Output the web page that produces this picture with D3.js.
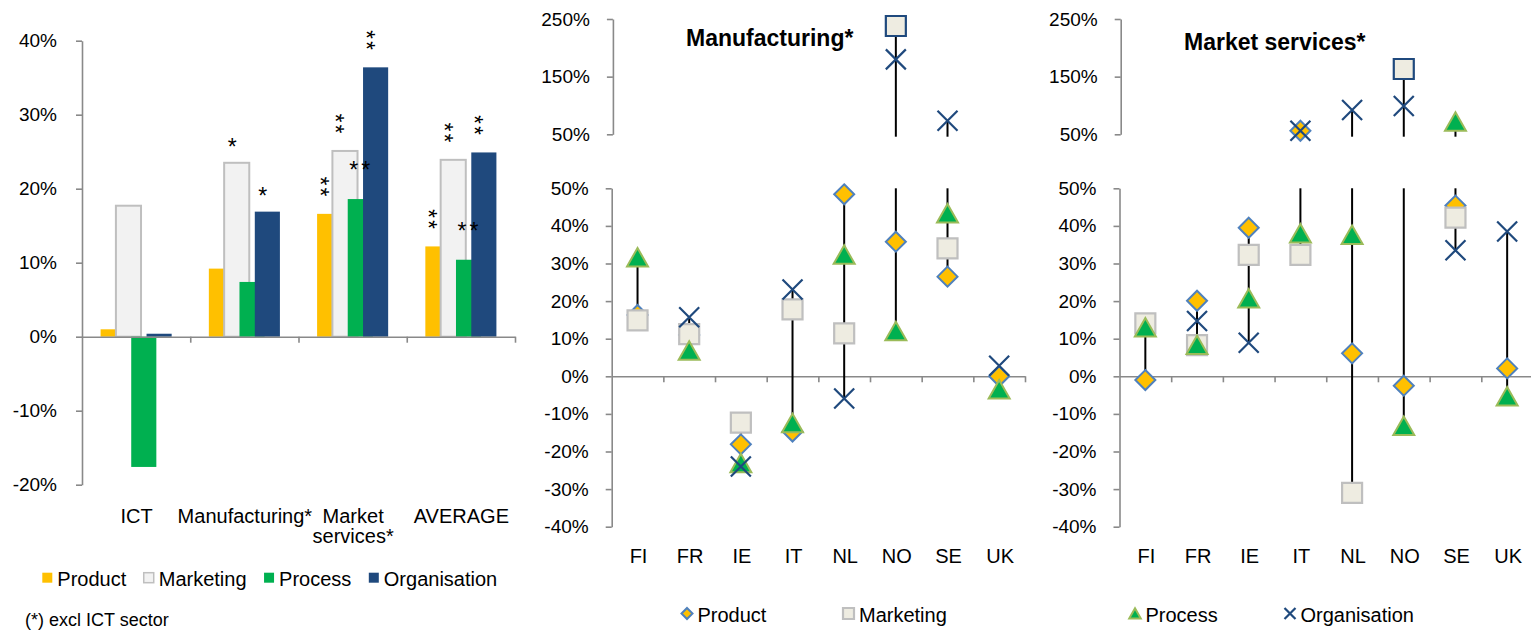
<!DOCTYPE html>
<html>
<head>
<meta charset="utf-8">
<script src="https://cdn.jsdelivr.net/npm/d3@7"></script>
<style>
  body { margin: 0; background: #ffffff; }
  svg { display: block; font-family: "Liberation Sans", Arial, sans-serif; }
</style>
</head>
<body>
<svg id="chart" width="1531" height="630"></svg>
<script>
// ---------- Bar chart: effect of each innovation type by sector ----------
const sectors = ["ICT", "Manufacturing*", "Market services*", "AVERAGE"];
const sectorLines = [["ICT"], ["Manufacturing*"], ["Market", "services*"], ["AVERAGE"]];
const innovationTypes = ["Product", "Marketing", "Process", "Organisation"];
const barProduct = [1.0, 9.2, 16.6, 12.2];
const barMarketing = [17.7, 23.5, 25.1, 23.9];
const barProcess = [-17.6, 7.4, 18.6, 10.4];
const barOrganisation = [0.4, 16.9, 36.4, 24.9];
// significance stars shown above the bars
const sigProduct = ["", "", "**", "**"];
const sigMarketing = ["", "*", "**", "**"];
const sigProcess = ["", "", "**", "**"];
const sigOrganisation = ["", "*", "**", "**"];
const barTicks = [-20, -10, 0, 10, 20, 30, 40];
const footnote = "(*) excl ICT sector";

// ---------- Country panels ----------
const countries = ["FI", "FR", "IE", "IT", "NL", "NO", "SE", "UK"];
const mfgProduct = [16.3, 11.0, -18.1, -14.7, 48.4, 35.8, 26.5, 0.0];
const mfgMarketing = [14.9, 11.2, -12.3, 17.8, 11.4, 237.9, 34.0, null];
const mfgProcess = [31.6, 6.8, -23.1, -12.5, 32.3, 12.0, 43.3, -3.5];
const mfgOrganisation = [null, 15.7, -24.0, 23.1, -5.9, 180.0, 73.6, 2.8];

const svcProduct = [-1.0, 20.1, 39.5, 56.2, 6.1, -2.5, 45.4, 2.1];
const svcMarketing = [14.1, 8.3, 32.3, 32.3, -31.0, 163.3, 42.2, null];
const svcProcess = [13.0, 8.3, 20.7, 38.0, 37.6, -13.2, 71.9, -5.4];
const svcOrganisation = [null, 14.7, 8.9, 56.0, 92.2, 99.1, 33.5, 38.5];

const upperTicks = [50, 150, 250];
const lowerTicks = [-40, -30, -20, -10, 0, 10, 20, 30, 40, 50];

// ---------- Styling ----------
const AXIS = "#898989";
const barFill = ["#FFC000", "#F2F2F2", "#00B050", "#1F497D"];
const barStroke = [null, "#BFBFBF", null, null];
const FONT = 19;      // tick labels
const LABEL = 20;     // category labels and legends
const pct = d => d + "%";

const svg = d3.select("#chart");

function styleAxis(g) {
  g.attr("font-family", null).attr("font-size", FONT);
  g.selectAll("path.domain").attr("stroke", AXIS).attr("stroke-width", 1.6);
  g.selectAll(".tick line").attr("stroke", AXIS).attr("stroke-width", 1.6);
  g.selectAll(".tick text").attr("fill", "#000");
}

// =============== Left: grouped bars ===============
(function barChart() {
  const seriesVals = [barProduct, barMarketing, barProcess, barOrganisation];
  const seriesSig = [sigProduct, sigMarketing, sigProcess, sigOrganisation];
  const x = d3.scaleBand().domain(sectors).range([82, 515]);
  const y = d3.scaleLinear().domain([-20, 40]).range([484.7, 40.7]);
  const bw = x.bandwidth();
  const barW = bw * 0.232, step = bw * 0.1415;
  const groupW = step * 3 + barW;

  const g = svg.append("g");

  // bars, drawn series by series so later series overlap earlier ones
  seriesVals.forEach((vals, si) => {
    g.append("g").selectAll("rect").data(vals).join("rect")
      .attr("x", (d, i) => x(sectors[i]) + bw / 2 - groupW / 2 + si * step)
      .attr("width", barW)
      .attr("y", d => y(Math.max(0, d)))
      .attr("height", d => Math.abs(y(d) - y(0)))
      .attr("fill", barFill[si])
      .attr("stroke", barStroke[si])
      .attr("stroke-width", barStroke[si] ? 2 : null);
  });

  // y axis
  g.append("g").attr("transform", "translate(82,0)")
    .call(d3.axisLeft(y).tickValues(barTicks).tickFormat(pct).tickSize(6).tickSizeOuter(0).tickPadding(19))
    .call(styleAxis);

  // category axis with boundary ticks
  const xb = d3.scaleLinear().domain([0, sectors.length]).range([82, 515]);
  g.append("g").attr("transform", `translate(0,${y(0)})`)
    .call(d3.axisBottom(xb).tickValues(d3.range(1, sectors.length + 1)).tickFormat("").tickSize(6).tickSizeOuter(0))
    .call(styleAxis);

  // category labels
  const lab = g.append("g").attr("font-size", LABEL).attr("text-anchor", "middle");
  sectorLines.forEach((lines, i) => {
    lines.forEach((t, li) => {
      lab.append("text").attr("x", x(sectors[i]) + bw / 2 + 0.5).attr("y", 522.7 + li * 20.5).text(t);
    });
  });

  // significance stars
  const starSize = 23, starRise = starSize * 0.57, starHalf = starSize * 0.19;
  const stars = g.append("g").attr("font-size", starSize);
  seriesSig.forEach((sigs, si) => {
    sigs.forEach((s, i) => {
      if (!s) return;
      const v = seriesVals[si][i];
      const cx = x(sectors[i]) + bw / 2 - groupW / 2 + si * step + barW / 2;
      const top = y(v);
      if (s.length === 1) {
        stars.append("text").attr("text-anchor", "middle")
          .attr("x", cx - 4.5).attr("y", top - 21 + starRise).text(s);
      } else if (si === 2) {
        // process stars sit side by side
        stars.append("text").attr("text-anchor", "middle")
          .attr("x", cx + 1).attr("y", top - 34 + starRise)
          .attr("letter-spacing", 3).text(s);
      } else {
        // stacked stars: the pair runs downwards
        const ax = cx - 4.5 - starRise, ay = top - 33 - starHalf;
        stars.append("text").attr("x", ax).attr("y", ay)
          .attr("letter-spacing", 2)
          .attr("transform", `rotate(90,${ax},${ay})`).text(s);
      }
    });
  });

  // legend
  const leg = g.append("g").attr("font-size", LABEL);
  let lx = 42.3;
  innovationTypes.forEach((t, si) => {
    leg.append("rect").attr("x", lx).attr("y", 572.7).attr("width", 10).attr("height", 10)
      .attr("fill", barFill[si]).attr("stroke", barStroke[si]).attr("stroke-width", barStroke[si] ? 1.5 : null);
    const txt = leg.append("text").attr("x", lx + 15).attr("y", 586).text(t);
    lx += 15 + txt.node().getComputedTextLength() + 17.5;
  });

  g.append("text").attr("x", 25).attr("y", 625.5).attr("font-size", 18).text(footnote);
})();

// =============== Country panels with broken axis ===============
const markerPaths = {
  Product: "M0,-10L10,0L0,10L-10,0Z",
  Marketing: "M-10,-10H10V10H-10Z",
  Process: "M0,-9.5L10.5,9L-10.5,9Z",
  Organisation: "M-10,-10L10,10M10,-10L-10,10"
};
const markerStyle = {
  Product: { fill: "#FFC000", stroke: "#4F81BD", width: 2 },
  Marketing: { fill: "#EEECE1", stroke: "#BFBFBF", width: 2.2 },
  Process: { fill: "#00B050", stroke: "#9BBB59", width: 2 },
  Organisation: { fill: "none", stroke: "#1F497D", width: 2.2 }
};

function drawMarker(g, type, cx, cy, scale, upper) {
  const st = markerStyle[type];
  g.append("path")
    .attr("d", markerPaths[type])
    .attr("transform", `translate(${cx},${cy}) scale(${scale})`)
    .attr("fill", st.fill)
    .attr("stroke", upper && type === "Marketing" ? "#1F497D" : st.stroke)
    .attr("stroke-width", st.width / scale);
}

function countryPanel(cfg) {
  const series = [cfg.product, cfg.marketing, cfg.process, cfg.organisation];
  const x = d3.scaleBand().domain(countries).range([cfg.x0, cfg.x1]);
  const yUp = d3.scaleLinear().domain([50, 250]).range([134.3, 19]);
  const yLo = d3.scaleLinear().domain([-40, 50]).range([526.7, 188.3]);
  const g = svg.append("g");
  const cx = c => x(c) + x.bandwidth() / 2;

  // axes
  g.append("g").attr("transform", `translate(${cfg.x0 + 1.2},0)`)
    .call(d3.axisLeft(yUp).tickValues(upperTicks).tickFormat(pct).tickSize(6).tickSizeOuter(0).tickPadding(17))
    .call(styleAxis);
  g.append("g").attr("transform", `translate(${cfg.x0},0)`)
    .call(d3.axisLeft(yLo).tickValues(lowerTicks).tickFormat(pct).tickSize(6).tickSizeOuter(0).tickPadding(17))
    .call(styleAxis);
  const xb = d3.scaleLinear().domain([0, countries.length]).range([cfg.x0, cfg.x1]);
  g.append("g").attr("transform", `translate(0,${yLo(0)})`)
    .call(d3.axisBottom(xb).tickValues(d3.range(1, countries.length + 1)).tickFormat("").tickSize(6).tickSizeOuter(0))
    .call(styleAxis);

  // country labels
  g.append("g").attr("font-size", LABEL).attr("text-anchor", "middle")
    .selectAll("text").data(countries).join("text")
    .attr("x", d => cx(d) + 1).attr("y", 563).text(d => d);

  // high-low lines, split across the two segments of the axis
  const lines = g.append("g").attr("stroke", "#000").attr("stroke-width", 2);
  countries.forEach((c, i) => {
    const vals = series.map(s => s[i]).filter(v => v !== null);
    const hi = d3.max(vals), lo = d3.min(vals);
    if (hi > 50) {
      lines.append("line").attr("x1", cx(c)).attr("x2", cx(c))
        .attr("y1", yUp(Math.min(hi, 250))).attr("y2", yUp(Math.max(lo, 50)) + (lo < 50 ? 2.4 : 0));
    }
    if (lo < 50) {
      lines.append("line").attr("x1", cx(c)).attr("x2", cx(c))
        .attr("y1", yLo(Math.min(hi, 50))).attr("y2", yLo(Math.max(lo, -40)));
    }
  });

  // markers, series by series (later series on top)
  const mk = g.append("g");
  innovationTypes.forEach((t, si) => {
    series[si].forEach((v, i) => {
      if (v === null) return;
      const upper = v > 50;
      drawMarker(mk, t, cx(countries[i]), upper ? yUp(v) : yLo(v), 1, upper);
    });
  });

  // title
  g.append("text").attr("x", cfg.titleX).attr("y", cfg.titleY)
    .attr("font-size", 23).attr("font-weight", "bold").text(cfg.title);

  // legend (two entries per panel)
  const leg = g.append("g").attr("font-size", LABEL);
  cfg.legend.forEach(item => {
    drawMarker(leg, item.type, item.x, 613.5, 0.55, false);
    leg.append("text").attr("x", item.x + 10.5).attr("y", 621.5).text(item.type);
  });
}

countryPanel({
  title: "Manufacturing*", titleX: 686, titleY: 46,
  x0: 611.7, x1: 1025,
  product: mfgProduct, marketing: mfgMarketing, process: mfgProcess, organisation: mfgOrganisation,
  legend: [{ type: "Product", x: 687 }, { type: "Marketing", x: 848.5 }]
});

countryPanel({
  title: "Market services*", titleX: 1184, titleY: 50,
  x0: 1119.5, x1: 1533,
  product: svcProduct, marketing: svcMarketing, process: svcProcess, organisation: svcOrganisation,
  legend: [{ type: "Process", x: 1135 }, { type: "Organisation", x: 1290 }]
});
</script>
</body>
</html>
